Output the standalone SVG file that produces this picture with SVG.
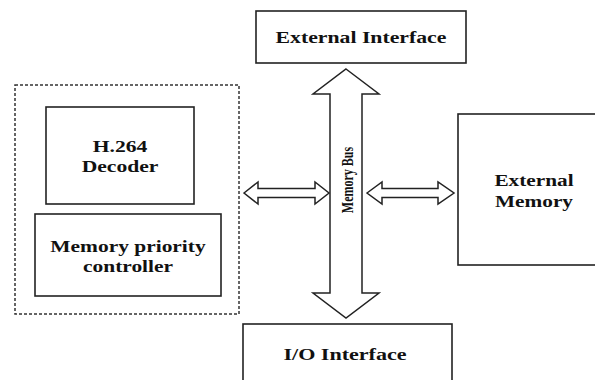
<svg xmlns="http://www.w3.org/2000/svg" width="595" height="380" viewBox="0 0 595 380">
<style>
.box{fill:#fff;stroke:#222;stroke-width:1.6}
.dash{fill:none;stroke:#333;stroke-width:1.5;stroke-dasharray:3 2}
.arr{fill:#fff;stroke:#222;stroke-width:1.5;stroke-linejoin:miter}
.t{font-family:"Liberation Serif","Times New Roman",serif;font-weight:bold;font-size:16px;fill:#111;text-anchor:middle}
.b{font-size:12px}
</style>
<rect width="595" height="380" fill="#fff"/>
<g id="soc">
<rect class="dash" x="15" y="85" width="224" height="229"/>
</g>
<g id="decoder">
<rect class="box" x="46" y="107" width="148" height="97"/>
<text class="t" transform="translate(120,152) scale(1.35,1)">H.264</text>
<text class="t" transform="translate(120,172) scale(1.35,1)">Decoder</text>
</g>
<g id="mpc">
<rect class="box" x="35" y="214" width="186" height="82"/>
<text class="t" transform="translate(128,252) scale(1.34,1)">Memory priority</text>
<text class="t" transform="translate(128,272) scale(1.34,1)">controller</text>
</g>
<g id="ext_if">
<rect class="box" x="256" y="11" width="210" height="52"/>
<text class="t" transform="translate(361,43) scale(1.36,1)">External Interface</text>
</g>
<g id="ext_mem">
<rect class="box" x="458" y="114" width="145" height="151"/>
<text class="t" transform="translate(534,186) scale(1.33,1)">External</text>
<text class="t" transform="translate(534,207) scale(1.33,1)">Memory</text>
</g>
<g id="io_if">
<rect class="box" x="243" y="324" width="209" height="62"/>
<text class="t" transform="translate(345,360) scale(1.38,1)">I/O Interface</text>
</g>
<g id="connectors">
<g id="memory_bus">
<polygon class="arr" points="346,69 379,94 362,94 362,293 379,293 346,318 313,293 330,293 330,94 313,94"/>
<text class="t b" transform="translate(353,180) rotate(-90) scale(1,1.45)">Memory Bus</text>
</g>
<polygon class="arr" points="244,193 258,182 258,188.5 315,188.5 315,182 329,193 315,204 315,197.5 258,197.5 258,204"/>
<polygon class="arr" points="367,193 382,182 382,188.5 438,188.5 438,182 454,193 438,204 438,197.5 382,197.5 382,204"/>
</g>
</svg>
